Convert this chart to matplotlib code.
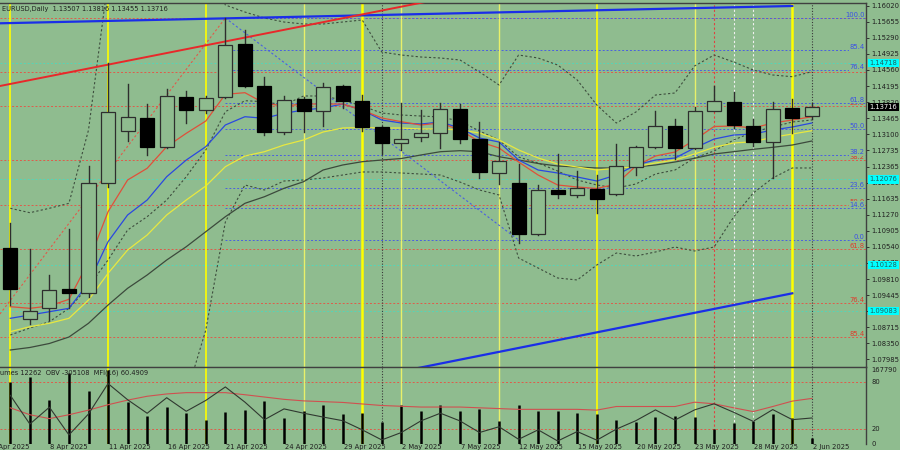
import matplotlib
matplotlib.use("Agg")
import matplotlib.pyplot as plt
from matplotlib.patches import Rectangle
import numpy as np

# ---------------- data ----------------
opens = [1.10507, 1.08894, 1.09151, 1.09576, 1.09485, 1.11998, 1.13180, 1.13461, 1.12816, 1.13939,
         1.13650, 1.13952, 1.15143, 1.14202, 1.13157, 1.13900, 1.13634, 1.14195, 1.13854, 1.13271,
         1.12893, 1.13030, 1.13134, 1.13673, 1.12991, 1.12225, 1.11998, 1.10826, 1.11832, 1.11718,
         1.11855, 1.11741, 1.12348, 1.12802, 1.13286, 1.12780, 1.13634, 1.13839, 1.13293, 1.12916,
         1.13689, 1.13507]
highs = [1.11082, 1.10491, 1.09901, 1.10946, 1.12377, 1.14718, 1.14241, 1.13786, 1.14120, 1.14089,
         1.13968, 1.15734, 1.15468, 1.14393, 1.13968, 1.13945, 1.14257, 1.14218, 1.13991, 1.13285,
         1.13802, 1.13650, 1.13802, 1.13786, 1.13370, 1.12930, 1.12423, 1.11946, 1.12650, 1.12264,
         1.12173, 1.12877, 1.12832, 1.13627, 1.13445, 1.13725, 1.14195, 1.14066, 1.13445, 1.13825,
         1.13893, 1.13816]
lows = [1.09219, 1.08787, 1.08878, 1.09151, 1.09408, 1.11907, 1.12952, 1.12627, 1.12786, 1.13348,
        1.13589, 1.13923, 1.14166, 1.13082, 1.13100, 1.13157, 1.13293, 1.13707, 1.13173, 1.12650,
        1.12741, 1.12952, 1.12793, 1.12907, 1.12112, 1.11962, 1.10635, 1.10810, 1.11644, 1.11666,
        1.11303, 1.11718, 1.12173, 1.12780, 1.12537, 1.12760, 1.13620, 1.13234, 1.12839, 1.12112,
        1.13120, 1.13455]
closes = [1.09576, 1.09089, 1.09560, 1.09485, 1.11984, 1.13611, 1.13484, 1.12802, 1.13975, 1.13650,
          1.13916, 1.15127, 1.14195, 1.13157, 1.13877, 1.13634, 1.14180, 1.13854, 1.13271, 1.12893,
          1.12991, 1.13134, 1.13673, 1.12991, 1.12234, 1.12491, 1.10832, 1.11832, 1.11734, 1.11871,
          1.11628, 1.12377, 1.12816, 1.13286, 1.12780, 1.13634, 1.13854, 1.13309, 1.12916, 1.13673,
          1.13475, 1.13716]

ma_red = [1.09181, 1.09144, 1.09197, 1.09349, 1.10197, 1.11340, 1.12060, 1.12326, 1.12817, 1.13121,
          1.13400, 1.14007, 1.14044, 1.13803, 1.13741, 1.13787, 1.13787, 1.13787, 1.13650, 1.13469,
          1.13385, 1.13310, 1.13355, 1.13196, 1.12930, 1.12787, 1.12469, 1.12173, 1.11946, 1.11901,
          1.11867, 1.11969, 1.12378, 1.12605, 1.12696, 1.12969, 1.13276, 1.13287, 1.13241, 1.13355,
          1.13423, 1.13498]
ma_blue = [1.08917, 1.08992, 1.09067, 1.09144, 1.09719, 1.10658, 1.11265, 1.11605, 1.12135, 1.12514,
           1.12817, 1.13310, 1.13498, 1.13462, 1.13575, 1.13650, 1.13696, 1.13787, 1.13650, 1.13423,
           1.13355, 1.13332, 1.13378, 1.13241, 1.13014, 1.12923, 1.12514, 1.12287, 1.12219, 1.12128,
           1.12037, 1.12173, 1.12401, 1.12514, 1.12560, 1.12787, 1.12991, 1.13082, 1.13105, 1.13196,
           1.13264, 1.13355]
ma_yellow = [1.08613, 1.08726, 1.08804, 1.08917, 1.09333, 1.09940, 1.10469, 1.10810, 1.11265, 1.11605,
             1.11924, 1.12362, 1.12605, 1.12703, 1.12855, 1.12969, 1.13151, 1.13241, 1.13253, 1.13241,
             1.13241, 1.13219, 1.13219, 1.13196, 1.13128, 1.12969, 1.12742, 1.12560, 1.12423, 1.12355,
             1.12287, 1.12326, 1.12362, 1.12446, 1.12514, 1.12651, 1.12803, 1.12901, 1.12930, 1.13030,
             1.13105, 1.13180]
ma_gray = [1.08197, 1.08254, 1.08345, 1.08492, 1.08804, 1.09219, 1.09599, 1.09901, 1.10242, 1.10544,
           1.10885, 1.11226, 1.11530, 1.11680, 1.11871, 1.12021, 1.12287, 1.12401, 1.12476, 1.12514,
           1.12548, 1.12628, 1.12703, 1.12726, 1.12703, 1.12589, 1.12514, 1.12435, 1.12378, 1.12355,
           1.12333, 1.12333, 1.12355, 1.12401, 1.12469, 1.12553, 1.12651, 1.12703, 1.12757, 1.12803,
           1.12855, 1.12946]
band_upper = [1.11417, 1.11317, 1.11417, 1.11530, 1.13196, 1.16604, 1.17513, 1.17968, 1.17968, 1.17741,
              1.17286, 1.16036, 1.15877, 1.15741, 1.15650, 1.15605, 1.15605, 1.15650, 1.15696, 1.14968,
              1.14900, 1.14855, 1.14832, 1.14787, 1.14514, 1.14219, 1.14900, 1.14832, 1.14673, 1.14332,
              1.13764, 1.13355, 1.13605, 1.13991, 1.14037, 1.14650, 1.14900, 1.14741, 1.14560, 1.14446,
              1.14407, 1.14521]
band_mid = [1.08538, 1.08697, 1.08840, 1.09144, 1.09635, 1.10242, 1.10924, 1.11226, 1.11605, 1.12135,
            1.12742, 1.13612, 1.13862, 1.13839, 1.13764, 1.13969, 1.13969, 1.13878, 1.13741, 1.13582,
            1.13537, 1.13514, 1.13491, 1.13400, 1.13173, 1.12969, 1.12582, 1.12446, 1.12264, 1.12060,
            1.11946, 1.11878, 1.11969, 1.12196, 1.12287, 1.12560, 1.12719, 1.12969, 1.13151, 1.13264,
            1.13378, 1.13423]
band_lower = [1.05243, 1.04788, 1.04334, 1.04334, 1.04334, 1.04788, 1.05470, 1.06152, 1.06606, 1.07174,
              1.08651, 1.11105, 1.11946, 1.11833, 1.12037, 1.12060, 1.12105, 1.12173, 1.12242, 1.12242,
              1.12219, 1.12196, 1.12173, 1.12014, 1.11833, 1.11719, 1.10287, 1.10060, 1.09833, 1.09788,
              1.10128, 1.10401, 1.10333, 1.10424, 1.10537, 1.10447, 1.10537, 1.11219, 1.11764, 1.12105,
              1.12333, 1.12333]

volumes = [135300, 146400, 94900, 153900, 114800, 161200, 91200, 61800, 80100, 67800,
           52300, 69100, 74400, 93400, 55900, 72900, 83900, 66200, 68400, 47000,
           83900, 72900, 83900, 72900, 77300, 50800, 83900, 72900, 72900, 68400,
           66200, 52300, 47000, 58100, 60300, 58100, 32400, 44800, 50800, 65600,
           56700, 12262]
mfi_line = [47, 38, 33, 38, 44, 51, 57, 62, 65, 66.7, 66.7, 66.7, 64, 61, 58, 56, 55, 54, 52, 50,
            49, 48, 48, 48, 47, 46, 45, 45, 45, 45, 44, 48.7, 48.7, 48.7, 48.7, 54.3, 52.2, 47, 42.1,
            48.7, 55.7, 59.2]
osc_line = [63.2, 25.9, 47.8, 11.8, 39, 78.5, 57.5, 39.9, 60.1, 42.5, 56.6, 74.1, 54.4, 31.6, 45.6,
            40, 35, 30.3, 18.4, 5.3, 14.9, 30, 40, 30, 14.9, 22.4, 6.1, 18.4, 3.9, 16.2, 5, 19.3, 30.3,
            44.3, 31.1, 44.3, 52.2, 41.2, 29.4, 44.7, 31.6, 33.8]

date_labels = ['3 Apr 2025', '8 Apr 2025', '11 Apr 2025', '16 Apr 2025', '21 Apr 2025', '24 Apr 2025',
               '29 Apr 2025', '2 May 2025', '7 May 2025', '12 May 2025', '15 May 2025', '20 May 2025',
               '23 May 2025', '28 May 2025', '2 Jun 2025']
date_label_idx = [-1, 2, 5, 8, 11, 14, 17, 20, 23, 26, 29, 32, 35, 38, 41]

price_ticks = [1.16020, 1.15655, 1.15290, 1.14925, 1.14560, 1.14195, 1.13830, 1.13465, 1.13100,
               1.12735, 1.12365, 1.12000, 1.11635, 1.11270, 1.10905, 1.10540, 1.10175, 1.09810,
               1.09445, 1.09080, 1.08715, 1.08350, 1.07985]

fib_levels = [0.0, 14.6, 23.6, 38.2, 50.0, 61.8, 76.4, 85.4, 100.0]
fib_blue_low, fib_blue_high = 1.10696, 1.15741
fib_red_high, fib_red_low = 1.15741, 1.07265
cyan_levels = [1.14718, 1.12076, 1.10128, 1.09083]

trend_top_blue = ([-0.53, 40.0], [1.15621, 1.16014])
trend_red = ([-0.53, 22.5], [1.14196, 1.16218])
trend_low_blue = ([20.0, 40.0], [1.07711, 1.09485])
fib_conn_blue = ([11, 26], [1.15741, 1.10696])
fib_conn_red = ([-0.53, 11], [1.09015, 1.15741])

vl_bright = [0, 5, 10, 30]
vl_pale = [15, 20, 25, 35]
vl_thick = [18, 40]
vl_white = [37, 38]
vl_red = [36]
vl_dark = [19, 41]

title_text = "EURUSD,Daily  1.13507 1.13816 1.13455 1.13716"
sub_text = "Volumes 12262  OBV -305108  MFI(16) 60.4909"
vol_max = 167790

# ---------------- drawing ----------------
BG = '#8fbc8f'
W, H = 900, 450
fig = plt.figure(figsize=(9, 4.5), dpi=100, facecolor=BG)
plt.rcParams['font.family'] = ['DejaVu Sans']
FS = 4.9

ax = fig.add_axes([0, 1 - 366.5 / H, 866 / W, (366.5 - 3) / H], facecolor=BG)
axl = fig.add_axes([0, 1 - 444 / H, 866 / W, (444 - 367) / H], facecolor=BG)

xmin, xmax = -0.527, 43.77
ax.set_xlim(xmin, xmax)
ax.set_ylim(1.07822, 1.16082)
axl.set_xlim(xmin, xmax)
axl.set_ylim(0, 100)

n = len(opens)
idx = np.arange(n)

# horizontal levels
red_fib_col = '#e05a4a'
blue_fib_col = '#4a60e0'
for lv in fib_levels[:-1]:
    p = fib_red_high - (fib_red_high - fib_red_low) * lv / 100
    ax.plot([xmin, xmax], [p, p], color=red_fib_col, lw=0.7, ls=(0, (2, 2)), zorder=1)
    ax.text(0.9985, p, f"{lv:.1f}", transform=ax.get_yaxis_transform(), ha='right', va='bottom',
            fontsize=FS, color='#e03a2a', zorder=1)
for lv in fib_levels:
    p = fib_blue_low + (fib_blue_high - fib_blue_low) * lv / 100
    ax.plot([11, xmax], [p, p], color=blue_fib_col, lw=0.7, ls=(0, (2, 2)), zorder=1.1)
    ax.text(0.9985, p, f"{lv:.1f}", transform=ax.get_yaxis_transform(), ha='right', va='bottom',
            fontsize=FS, color='#3a4ee8', zorder=1.2,
            bbox=dict(boxstyle='square,pad=0.05', fc=BG, ec='none'))
for p in cyan_levels:
    ax.plot([xmin, xmax], [p, p], color='#55d6b8', lw=0.7, ls=(0, (2, 2)), zorder=1)

# vertical lines
for a in (ax, axl):
    for i in vl_bright:
        a.axvline(i, color='#ffff00', lw=1.2, zorder=1.5)
    for i in vl_pale:
        a.axvline(i, color='#e8f06a', lw=1.0, zorder=1.5)
    for i in vl_thick:
        a.axvline(i, color='#ffff00', lw=1.8, zorder=1.5)
    for i in vl_white:
        a.axvline(i, color='#f0f0f0', lw=0.8, ls=(0, (2, 2)), zorder=1.5)
    for i in vl_red:
        a.axvline(i, color='#e04040', lw=0.8, ls=(0, (2, 2)), zorder=1.5)
    for i in vl_dark:
        a.axvline(i, color='#3a3a3a', lw=0.8, ls=(0, (1, 1.5)), zorder=1.5)

# bands
band_kw = dict(color='#3e4e3e', lw=0.8, ls=(0, (2, 2)), zorder=2)
ax.plot(idx, band_upper, **band_kw)
ax.plot(idx, band_mid, **band_kw)
ax.plot(idx, band_lower, **band_kw)

# moving averages
ax.plot(idx, ma_gray, color='#3c4a3c', lw=0.9, zorder=2.2)
ax.plot(idx, ma_yellow, color='#e8e840', lw=0.9, zorder=2.3)
ax.plot(idx, ma_blue, color='#2a48e0', lw=0.9, zorder=2.4)
ax.plot(idx, ma_red, color='#e0503a', lw=0.9, zorder=2.5)

# fib connectors and trendlines
ax.plot(*fib_conn_blue, color='#4a60e0', lw=0.8, ls=(0, (2, 2)), zorder=2)
ax.plot(*fib_conn_red, color='#e05a4a', lw=0.8, ls=(0, (2, 2)), zorder=2)
ax.plot(*trend_top_blue, color='#1a2ee8', lw=1.6, zorder=3)
ax.plot(*trend_red, color='#e8282a', lw=1.4, zorder=3)
ax.plot(*trend_low_blue, color='#1a2ee8', lw=1.6, zorder=3)

# candles
bw = 0.72
for i in range(n):
    o, h, l, c = opens[i], highs[i], lows[i], closes[i]
    ax.plot([i, i], [l, h], color='#2e2e2e', lw=1.0, zorder=4)
    bottom = min(o, c)
    height = max(abs(c - o), 0.00008)
    if c >= o:
        ax.add_patch(Rectangle((i - bw / 2, bottom), bw, height, facecolor=BG,
                               edgecolor='#2e2e2e', lw=0.9, zorder=5))
    else:
        ax.add_patch(Rectangle((i - bw / 2, bottom), bw, height, facecolor='black',
                               edgecolor='black', lw=0.9, zorder=5))

# axes styling
for a in (ax, axl):
    a.set_xticks([])
    for s in ('left', 'bottom'):
        a.spines[s].set_visible(False)
    a.spines['right'].set_color('#404040')
    a.spines['top'].set_color('#404040')
    a.spines['right'].set_linewidth(1.0)
    a.spines['top'].set_linewidth(1.0)
ax.spines['bottom'].set_visible(True)
ax.spines['bottom'].set_color('#404040')

ax.yaxis.tick_right()
ax.set_yticks(price_ticks)
ax.set_yticklabels([f"{p:.5f}" for p in price_ticks])
ax.tick_params(axis='y', labelsize=FS, length=2.5, pad=1.5, colors='#202020', width=0.6)

# highlighted labels on price axis
for p in cyan_levels:
    ax.text(1.004, p, f"{p:.5f}", transform=ax.get_yaxis_transform(), ha='left', va='center',
            fontsize=FS, color='#206060', clip_on=False, zorder=10,
            bbox=dict(boxstyle='square,pad=0.2', fc='#00ffff', ec='none'))
ax.text(1.004, closes[-1], f"{closes[-1]:.5f}", transform=ax.get_yaxis_transform(), ha='left',
        va='center', fontsize=FS, color='white', clip_on=False, zorder=11,
        bbox=dict(boxstyle='square,pad=0.2', fc='black', ec='none'))

ax.text(0.002, 0.992, title_text, transform=ax.transAxes, ha='left', va='top', fontsize=4.8,
        color='#202020', zorder=12)

# lower panel
axl.axhline(80, color='#e05a4a', lw=0.7, ls=(0, (2, 2)), zorder=1)
axl.axhline(20, color='#e05a4a', lw=0.7, ls=(0, (2, 2)), zorder=1)
vol_pct = [v / vol_max * 100 for v in volumes]
axl.vlines(idx, 0, vol_pct, color='black', lw=1.8, zorder=3)
axl.plot(idx, mfi_line, color='#d05050', lw=0.8, zorder=4)
axl.plot(idx, osc_line, color='#303830', lw=0.8, zorder=4)
axl.set_yticks([])
axl.text(-0.011, 0.965, sub_text, transform=axl.transAxes, ha='left', va='top', fontsize=4.8,
         color='#202020', zorder=12)
for val, txt in [(96, str(vol_max)), (80, '80'), (20, '20'), (0, '0')]:
    axl.text(1.006, val, txt, transform=axl.get_yaxis_transform(), ha='left', va='center',
             fontsize=FS, color='#202020', clip_on=False)

# date labels
for i, lab in zip(date_label_idx, date_labels):
    xf = (i - xmin) / (xmax - xmin) * (866 / W)
    fig.text(xf + 0.001, 1 - 447.5 / H, lab, ha='left', va='center', fontsize=4.9, color='#202020')

fig.savefig('out.png', dpi=100, facecolor=BG)
